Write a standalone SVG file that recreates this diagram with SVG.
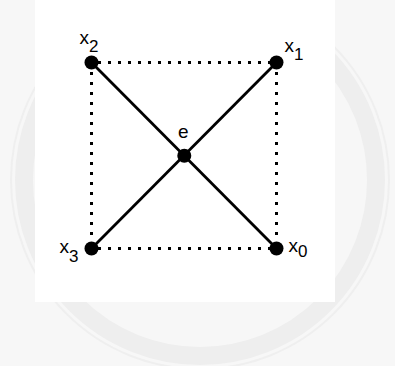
<svg xmlns="http://www.w3.org/2000/svg" width="395" height="366" viewBox="0 0 395 366">
<style>
.lbl{font-family:"Liberation Sans",Arial,sans-serif;font-size:19px;fill:#000}
.sub{font-size:17px}
.solid{stroke:#000;stroke-width:2.8;fill:none}
.dot{stroke:#000;stroke-width:3;stroke-dasharray:3 7;fill:none}
.node{fill:#000}
</style>
<rect width="395" height="366" fill="#f7f7f7"/>
<g id="watermark" fill="none">
<circle cx="200" cy="180" r="176" stroke="#eeeeee" stroke-width="18"/>
<circle cx="200" cy="180" r="189" stroke="#efefef" stroke-width="2"/>
</g>
<rect x="35" y="0" width="300" height="302" fill="#fff"/>
<g id="connectors">
<path class="dot" d="M98,62.5 H272"/>
<path class="dot" d="M98,248.5 H272"/>
<path class="dot" d="M91.5,72 V242"/>
<path class="dot" d="M276.5,72 V242"/>
<line class="solid" x1="91.5" y1="62.5" x2="276.5" y2="248.5"/>
<line class="solid" x1="276.5" y1="62.5" x2="91.5" y2="248.5"/>
</g>
<g id="x2"><circle class="node" cx="91.5" cy="62.5" r="7"/><text class="lbl" x="79.5" y="44">x<tspan class="sub" dy="8">2</tspan></text></g>
<g id="x1"><circle class="node" cx="276.5" cy="62.5" r="7"/><text class="lbl" x="284.5" y="52">x<tspan class="sub" dy="8">1</tspan></text></g>
<g id="x3"><circle class="node" cx="91.5" cy="248.5" r="7"/><text class="lbl" x="59.5" y="253">x<tspan class="sub" dy="9">3</tspan></text></g>
<g id="x0"><circle class="node" cx="276.5" cy="248.5" r="7"/><text class="lbl" x="288.5" y="252">x<tspan class="sub" dy="5">0</tspan></text></g>
<g id="e"><circle class="node" cx="184.3" cy="155.7" r="7"/><text class="lbl" x="178" y="138">e</text></g>
</svg>
